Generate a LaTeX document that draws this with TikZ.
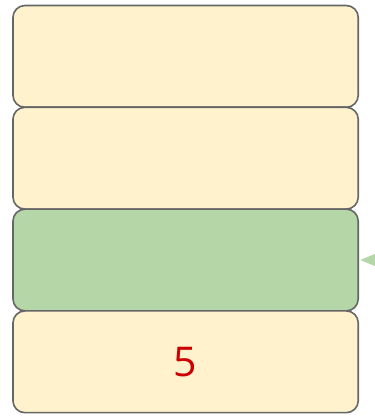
\documentclass[tikz,border=0pt]{standalone}
\usepackage{fontspec}
\setmainfont{Open Sans}
\usetikzlibrary{arrows.meta,positioning}
\definecolor{cellfill}{HTML}{FFF2CC}
\definecolor{cellline}{HTML}{666666}
\definecolor{topfill}{HTML}{B5D6A6}
\definecolor{numred}{HTML}{CC0000}
\tikzset{
  every picture/.style={line join=round, line cap=round, >=Stealth},
  cell/.style={draw=cellline, line width=1.6pt, fill=cellfill, rounded corners=12pt,
    minimum width=345.3pt, minimum height=101.8pt, inner sep=0pt, outer sep=0pt},
}

\begin{document}
\begin{tikzpicture}[x=1pt,y=1pt]
\useasboundingbox (0,0) rectangle (375,416);
\node[cell] (c1) at (185.6,359.6) {};
\node[cell,below=0pt of c1] (c2) {};
\node[cell,below=0pt of c2,fill=topfill] (c3) {};
\node[cell,below=0pt of c3] (c4) {\fontsize{41}{44}\selectfont\color{numred}5};
\coordinate[right=16pt of c3.east] (ptr);
\draw[-{Triangle[length=15pt,width=12pt]},topfill,line width=1pt,shorten >=2pt] (ptr) -- (c3.east);
\end{tikzpicture}
\end{document}
